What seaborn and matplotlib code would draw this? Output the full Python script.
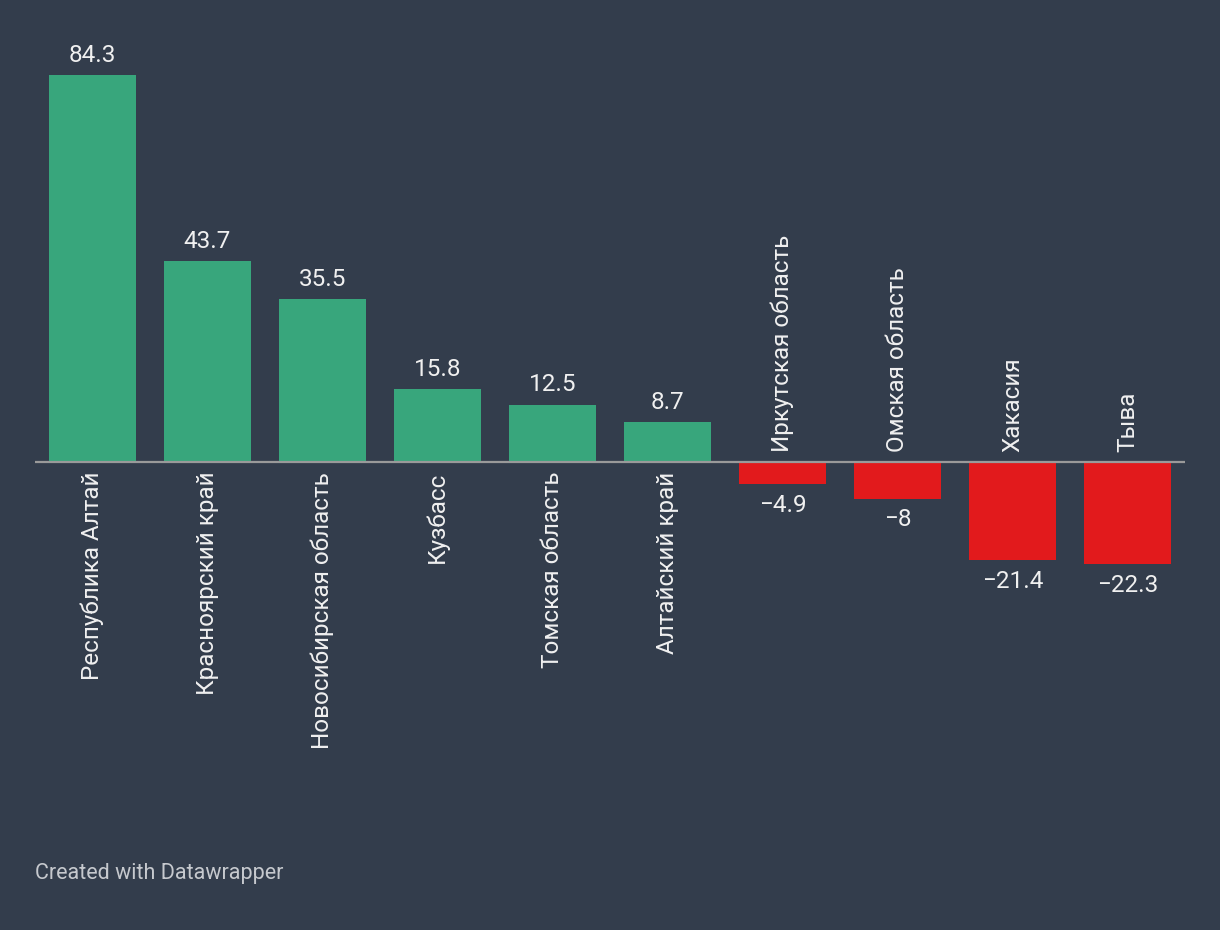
import matplotlib
matplotlib.use("Agg")
import matplotlib.pyplot as plt
import seaborn as sns
import pandas as pd

categories = ["Республика Алтай", "Красноярский край", "Новосибирская область",
              "Кузбасс", "Томская область", "Алтайский край",
              "Иркутская область", "Омская область", "Хакасия", "Тыва"]
values = [84.3, 43.7, 35.5, 15.8, 12.5, 8.7, -4.9, -8, -21.4, -22.3]

BG = "#333d4c"
GREEN = "#38a67c"
RED = "#e21a1c"
TEXT = "#f0f0f0"

sns.set_theme(style="white")
plt.rcParams['font.family'] = ['Roboto', 'DejaVu Sans']

fig = plt.figure(figsize=(12.2, 9.3), dpi=100, facecolor=BG)
ax = fig.add_axes([35/1220, 1 - 691.5/930, 1150/1220, 642.6/930])
ax.set_facecolor(BG)

df = pd.DataFrame({"cat": categories, "val": values})
palette = {c: (GREEN if v >= 0 else RED) for c, v in zip(categories, values)}
sns.barplot(data=df, x="cat", y="val", hue="cat", palette=palette, legend=False,
            width=0.757, saturation=1, linewidth=0, edgecolor="none", ax=ax)

ax.set_xlim(-0.5, len(categories) - 0.5)
ax.set_ylim(-50, 90)
ax.axhline(0, color="#9a9a9a", lw=1.6, zorder=5)
for s in ax.spines.values():
    s.set_visible(False)
ax.set_xticks([])
ax.set_yticks([])
ax.set_xlabel("")
ax.set_ylabel("")

def fmt(v):
    return f"{v:g}".replace("-", "\u2212")

FS = 17.5
for i, (c, v) in enumerate(zip(categories, values)):
    if v >= 0:
        ax.annotate(fmt(v), (i, v), xytext=(0, 6), textcoords="offset points",
                    ha="center", va="bottom", color=TEXT, fontsize=FS)
        ax.annotate(c, (i, 0), xytext=(0, -7), textcoords="offset points",
                    ha="center", va="top", rotation=90, color=TEXT, fontsize=FS)
    else:
        ax.annotate(fmt(v), (i, v), xytext=(0, -7), textcoords="offset points",
                    ha="center", va="top", color=TEXT, fontsize=FS)
        ax.annotate(c, (i, 0), xytext=(0, 7), textcoords="offset points",
                    ha="center", va="bottom", rotation=90, color=TEXT, fontsize=FS)

fig.text(35/1220, 1 - 873/930, "Created with Datawrapper", color="#c6c9ce",
         fontsize=15.5, ha="left", va="center")

fig.savefig("out.png", dpi=100, facecolor=BG)
